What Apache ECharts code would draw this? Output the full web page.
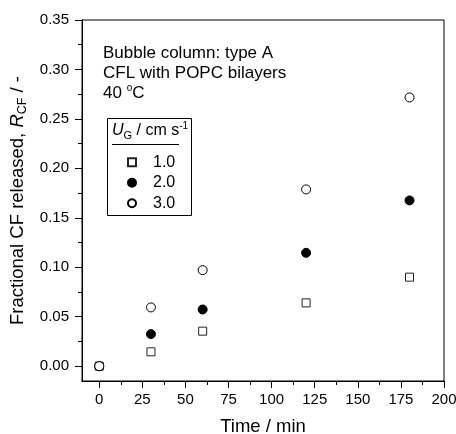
<!DOCTYPE html>
<html lang="en">

<head>
    <meta charset="UTF-8">
    <title>Fractional CF released</title>
    <script type="text/javascript" src="https://cdn.jsdelivr.net/npm/echarts@6/dist/echarts.min.js"></script>
    <style>
        body { margin: 0; background: #fff; }
        .chart { width: 456px; height: 434px; }
    </style>
</head>

<body>
    <div class="chart"></div>
</body>
<script>
    // data
    let times = [0, 30, 60, 120, 180]
    let ug10 = [0.000, 0.0145, 0.0354, 0.0640, 0.0900]
    let ug20 = [0.000, 0.0324, 0.0573, 0.1146, 0.1676]
    let ug30 = [0.000, 0.0594, 0.0971, 0.1787, 0.2717]
    let xMajor = [0, 25, 50, 75, 100, 125, 150, 175, 200]
    let xMinor = [12.5, 37.5, 62.5, 87.5, 112.5, 137.5, 162.5, 187.5]
    let yMajor = [0, 0.05, 0.10, 0.15, 0.20, 0.25, 0.30, 0.35]
    let yMinor = [0.025, 0.075, 0.125, 0.175, 0.225, 0.275, 0.325]

    let font = 'Arial, "Liberation Sans", sans-serif'
    let pairs = (ys) => times.map((t, i) => [t, ys[i]])

    let mCharts = echarts.init(document.querySelector('.chart'))

    // main and minor-tick axes share the same range and side
    let xBase = {
        type: 'value',
        position: 'bottom',
        min: -10,
        max: 200,
        splitLine: { show: false },
        axisLine: { show: true, onZero: false, lineStyle: { color: '#000', width: 1 } }
    }
    let yBase = {
        type: 'value',
        position: 'left',
        min: -0.015,
        max: 0.35,
        splitLine: { show: false },
        axisLine: { show: true, onZero: false, lineStyle: { color: '#000', width: 1 } }
    }

    let option = {
        animation: false,
        textStyle: { fontFamily: font },
        grid: {
            left: 82, right: 12, top: 20, bottom: 53,
            outerBoundsMode: 'none',
            containLabel: false,
            show: true, borderColor: '#000', borderWidth: 1
        },
        xAxis: [Object.assign({}, xBase, {
            name: 'Time / min',
            nameLocation: 'middle',
            nameGap: 36,
            nameTextStyle: { fontSize: 18.5, color: '#000', fontFamily: font },
            axisTick: { show: true, length: 7, customValues: xMajor, lineStyle: { color: '#000' } },
            axisLabel: { customValues: xMajor, fontSize: 15, color: '#000', margin: 11, fontFamily: font }
        }), Object.assign({}, xBase, {
            axisTick: { show: true, length: 4, customValues: xMinor, lineStyle: { color: '#000' } },
            axisLabel: { show: false }
        })],
        yAxis: [Object.assign({}, yBase, {
            name: '{a|Fractional CF released, }{i|R}{s|CF}{a| / -}',
            nameLocation: 'middle',
            nameRotate: 90,
            nameGap: 40,
            nameTextStyle: {
                color: '#000',
                rich: {
                    a: { fontSize: 18.5, fontFamily: font, color: '#000', lineHeight: 22 },
                    i: { fontSize: 18.5, fontFamily: font, color: '#000', fontStyle: 'italic', lineHeight: 22 },
                    s: { fontSize: 12.5, fontFamily: font, color: '#000', lineHeight: 12, verticalAlign: 'bottom' }
                }
            },
            axisTick: { show: true, length: 7, customValues: yMajor, lineStyle: { color: '#000' } },
            axisLabel: {
                customValues: yMajor, fontSize: 15, color: '#000', margin: 13, fontFamily: font,
                formatter: (v) => v.toFixed(2)
            }
        }), Object.assign({}, yBase, {
            axisTick: { show: true, length: 4, customValues: yMinor, lineStyle: { color: '#000' } },
            axisLabel: { show: false }
        })],
        legend: {
            orient: 'vertical',
            left: 122,
            top: 147,
            itemWidth: 8,
            itemHeight: 8,
            itemGap: 0,
            textStyle: { fontSize: 16, color: '#000', fontFamily: font, lineHeight: 20.5, padding: [0, 0, 0, 12] },
            data: ['1.0', '2.0', '3.0']
        },
        graphic: [
            { type: 'text', left: 103, top: 45, style: { text: 'Bubble column: type A', font: '17px ' + font, fill: '#000' } },
            { type: 'text', left: 103, top: 65, style: { text: 'CFL with POPC bilayers', font: '17px ' + font, fill: '#000' } },
            {
                type: 'text', left: 103, top: 83,
                style: {
                    text: '{a|40 }{p|o}{a|C}',
                    rich: {
                        a: { fontSize: 17, fontFamily: font, fill: '#000', lineHeight: 21 },
                        p: { fontSize: 10, fontFamily: font, fill: '#000', lineHeight: 10, verticalAlign: 'top' }
                    }
                }
            },
            {
                type: 'rect', left: 105, top: 116,
                shape: { width: 84, height: 97 },
                style: { fill: 'none', stroke: '#000', lineWidth: 1 }
            },
            {
                type: 'text', left: 112, top: 121,
                style: {
                    text: '{i|U}{s|G}{a| / cm s}{p|-1}',
                    rich: {
                        a: { fontSize: 16, fontFamily: font, fill: '#000', lineHeight: 20 },
                        i: { fontSize: 16, fontFamily: font, fill: '#000', fontStyle: 'italic', lineHeight: 20 },
                        s: { fontSize: 11, fontFamily: font, fill: '#000', lineHeight: 11, verticalAlign: 'bottom' },
                        p: { fontSize: 10, fontFamily: font, fill: '#000', lineHeight: 10, verticalAlign: 'top' }
                    }
                }
            },
            {
                type: 'line',
                shape: { x1: 112, y1: 144.5, x2: 179, y2: 144.5 },
                style: { stroke: '#000', lineWidth: 1 }
            }
        ],
        series: [{
            name: '1.0',
            type: 'scatter',
            symbol: 'rect',
            symbolSize: 8,
            itemStyle: { color: '#fff', borderColor: '#222', borderWidth: 1, opacity: 1 },
            data: pairs(ug10)
        }, {
            name: '2.0',
            type: 'scatter',
            symbol: 'circle',
            symbolSize: 9,
            itemStyle: { color: '#000', borderColor: '#000', borderWidth: 1, opacity: 1 },
            data: pairs(ug20)
        }, {
            name: '3.0',
            type: 'scatter',
            symbol: 'circle',
            symbolSize: 9,
            itemStyle: { color: '#fff', borderColor: '#000', borderWidth: 1, opacity: 1 },
            data: pairs(ug30)
        }]
    };
    mCharts.setOption(option)
</script>

</html>
